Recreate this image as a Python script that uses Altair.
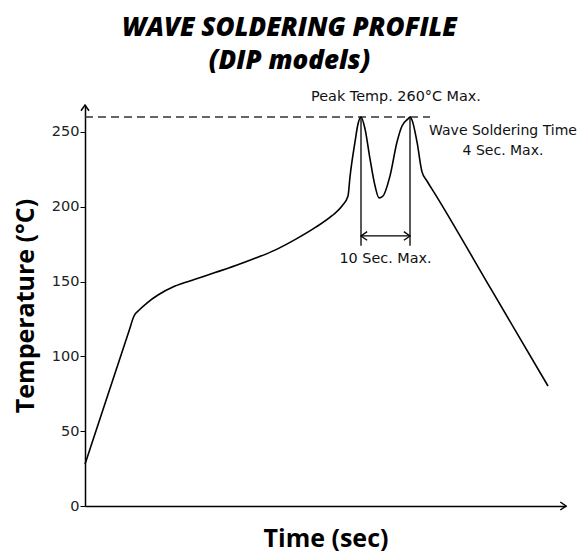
import altair as alt
import pandas as pd

# ---- data ----
time_s = [0, 1, 8.8, 9.8, 11, 12.5, 14.6, 18, 22, 26, 30, 34, 38, 42, 46, 49.4, 51.4,
          52.6, 53, 54, 54.6, 55.2, 56, 57, 58, 58.8, 59.6, 61, 62.4, 63.4, 64.6, 65,
          65.4, 66.4, 67.4, 68.4, 70, 81.3, 92.6]
temp_c = [28, 38.1, 117, 127, 131.5, 136, 141, 147, 151.5, 156, 160.5, 165.5, 171,
          178, 186, 194, 200.5, 207.2, 220, 243.3, 255.3, 260, 252, 232, 214,
          205.9, 207.2, 220.6, 243.3, 254, 258.7, 260, 258, 243.3, 223.3, 217.2, 208.6,
          144.4, 80.2]

y_ticks = [0, 50, 100, 150, 200, 250]
x_max = 96.2
y_max = 268
peak_limit = 260
peak_times = [55.2, 65]
rule_bottom = 174
span_arrow_y = 180.5

title_lines = ["WAVE SOLDERING PROFILE", "(DIP models)"]
ann_text = ["Peak Temp. 260°C Max.", "Wave Soldering Time", "4 Sec. Max.", "10 Sec. Max."]
ann_x = [62.2, 83.6, 83.6, 60.1]
ann_y = [273.4, 250.7, 237.3, 165]
ann_size = [14.4, 14, 14, 14.4]

curve = pd.DataFrame({"t": time_s, "T": temp_c})
xs = alt.Scale(domain=[0, x_max], nice=False, zero=False)
ys = alt.Scale(domain=[0, y_max], nice=False, zero=False)
x_axis = alt.Axis(title="Time (sec)", ticks=False, labels=False, grid=False, titlePadding=20,
                  titleFontSize=25)
y_axis = alt.Axis(title="Temperature (°C)", values=y_ticks, grid=False, titlePadding=13,
                  titleFontSize=25)


def X(field):
    return alt.X(field, scale=xs, axis=x_axis)


def Y(field):
    return alt.Y(field, scale=ys, axis=y_axis)


line = alt.Chart(curve).mark_line(color="black", strokeWidth=1.6, interpolate="monotone").encode(
    x=X("t:Q"), y=Y("T:Q"))

dash = alt.Chart(pd.DataFrame({"t": [0], "b": [peak_times[1] + 4], "T": [peak_limit]})).mark_rule(
    color="#333", strokeWidth=1.4, strokeDash=[8, 5]).encode(x=X("t:Q"), x2="b:Q", y=Y("T:Q"))

vrules = alt.Chart(pd.DataFrame({"t": peak_times, "T": [peak_limit] * 2, "bot": [rule_bottom] * 2})).mark_rule(
    color="black", strokeWidth=1.3).encode(x=X("t:Q"), y=Y("T:Q"), y2="bot:Q")

hrule = alt.Chart(pd.DataFrame({"t": [peak_times[0]], "b": [peak_times[1]], "T": [span_arrow_y]})).mark_rule(
    color="black", strokeWidth=1.3).encode(x=X("t:Q"), x2="b:Q", y=Y("T:Q"))

chev = "M-0.7,1L0,0L0.7,1"
span_heads = alt.Chart(pd.DataFrame({"t": peak_times, "T": [span_arrow_y] * 2, "ang": [270, 90]})).mark_point(
    shape=chev, filled=False, color="black", strokeWidth=1.3, size=150, opacity=1).encode(
    x=X("t:Q"), y=Y("T:Q"), angle=alt.Angle("ang:Q", scale=None))

axis_heads = alt.Chart(pd.DataFrame({"t": [0, x_max], "T": [y_max, 0], "ang": [0, 90]})).mark_point(
    shape=chev, filled=False, color="black", strokeWidth=1.5, size=130, opacity=1).encode(
    x=X("t:Q"), y=Y("T:Q"), angle=alt.Angle("ang:Q", scale=None))

texts = alt.Chart(pd.DataFrame({"t": ann_x, "T": ann_y, "s": ann_text, "fs": ann_size})).mark_text(
    font="DejaVu Sans", color="#111", align="center", baseline="middle").encode(
    x=X("t:Q"), y=Y("T:Q"), text="s:N", size=alt.Size("fs:Q", scale=None, legend=None))

chart = alt.layer(dash, line, vrules, hrule, span_heads, axis_heads, texts).properties(
    width=481, height=401,
    autosize=alt.AutoSizeParams(type="none"),
    padding={"left": 77, "top": 97, "right": 12, "bottom": 49},
    title=alt.TitleParams(text=title_lines, font="Open Sans", fontSize=26, fontWeight=800,
                          fontStyle="italic", color="black", anchor="middle", frame="group",
                          dx=-36, offset=15, lineHeight=33),
).configure_view(stroke=None).configure_axis(
    domainColor="black", domainWidth=1.5, tickColor="black", tickSize=5, tickWidth=1,
    labelFont="DejaVu Sans", labelFontSize=14.5, labelColor="#222", labelPadding=1,
    titleFont="Open Sans", titleFontWeight="bold", titleColor="black",
)

chart.save("out.html", embed_options={"renderer": "svg", "actions": False})
